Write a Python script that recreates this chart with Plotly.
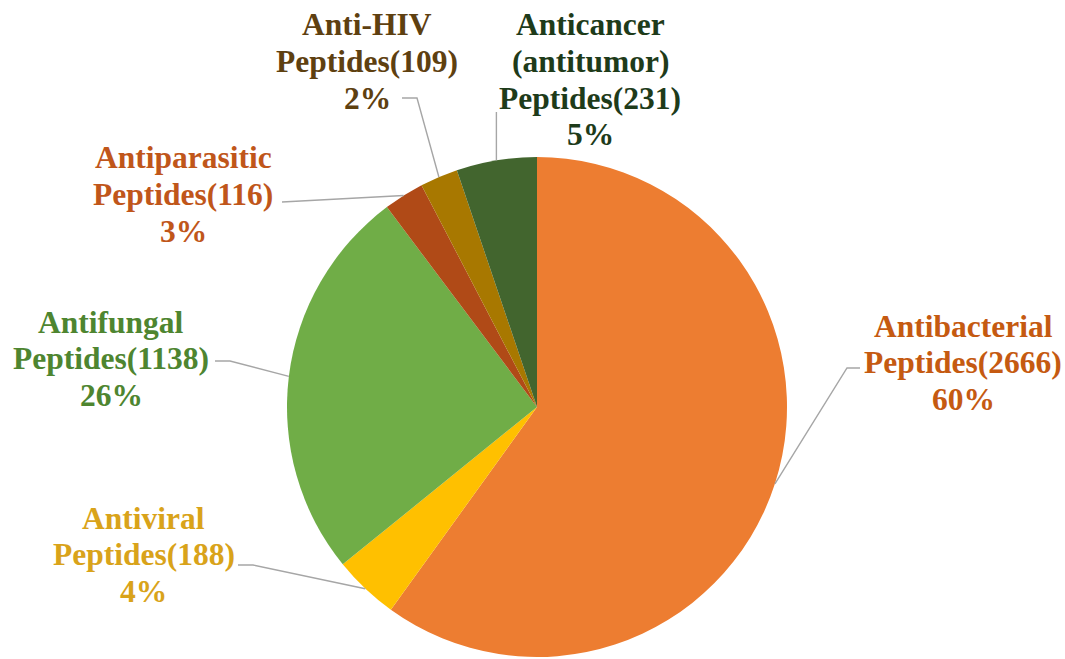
import math
import plotly.graph_objects as go

# ---- data ----
categories = ["Antibacterial", "Antiviral", "Antifungal", "Antiparasitic", "Anti-HIV", "Anticancer"]
label_lines = [
    ["Antibacterial", "Peptides(2666)"],
    ["Antiviral", "Peptides(188)"],
    ["Antifungal", "Peptides(1138)"],
    ["Antiparasitic", "Peptides(116)"],
    ["Anti-HIV", "Peptides(109)"],
    ["Anticancer", "(antitumor)", "Peptides(231)"],
]
counts = [2666, 188, 1138, 116, 109, 231]

# ---- styles ----
slice_colors = ["#ED7D31", "#FFC000", "#70AD47", "#B04A17", "#A87800", "#42652E"]
text_colors = ["#C55A11", "#D9A31A", "#4E8530", "#C0561A", "#5E4010", "#1E3B1A"]

W, H = 1065, 659
CX, CY, R = 537, 407, 250  # pie geometry in pixels (domain set accordingly)

# label layout (pixels): centre x, first line centre y
label_pos = [(963, 326), (144, 518), (111, 322), (183, 158), (367, 25), (590, 25)]
line_pitch = 36.5
# leader: (elbow point, label end point) in pixels; None elbow -> straight
leader_ends = [
    ((847, 368), (860, 368)),
    ((253, 565), (238, 565)),
    ((230, 361), (215, 361)),
    (None, (282, 202)),
    ((417, 98), (402, 98)),
    (None, "vertical:112"),
]

def px(x):
    return x / W

def py(y):
    return 1 - y / H

fig = go.Figure()
fig.add_trace(go.Pie(
    labels=categories,
    values=counts,
    sort=False,
    direction="clockwise",
    rotation=0,
    marker=dict(colors=slice_colors, line=dict(width=0)),
    textinfo="none",
    hoverinfo="label+value+percent",
    showlegend=False,
    domain=dict(x=[px(CX - R), px(CX + R)], y=[py(CY + R), py(CY - R)]),
))

total = sum(counts)
cum = 0
annotations = []
shapes = []
for i, v in enumerate(counts):
    mid = (cum + v / 2) / total * 2 * math.pi
    cum += v
    pct = round(v / total * 100)
    lines = label_lines[i] + [f"{pct}%"]
    cx, cy0 = label_pos[i]
    for k, t in enumerate(lines):
        annotations.append(dict(
            x=px(cx), y=py(cy0 + k * line_pitch), xref="paper", yref="paper",
            text=f"<b>{t}</b>", showarrow=False, xanchor="center", yanchor="middle",
            font=dict(family="Liberation Serif", size=31.5, color=text_colors[i]),
        ))
    # leader line from slice edge midpoint
    ex = CX + R * math.sin(mid)
    ey = CY - R * math.cos(mid)
    elbow, end = leader_ends[i]
    if isinstance(end, str):
        end = (ex, float(end.split(":")[1]))
    pts = [(ex, ey)] + ([elbow] if elbow else []) + [end]
    path = "M " + " L ".join(f"{px(a):.5f},{py(b):.5f}" for a, b in pts)
    shapes.append(dict(type="path", path=path, xref="paper", yref="paper",
                       line=dict(color="#A6A6A6", width=1.4)))

fig.update_layout(
    width=W, height=H,
    margin=dict(l=0, r=0, t=0, b=0),
    paper_bgcolor="white", plot_bgcolor="white",
    annotations=annotations, shapes=shapes,
)
fig.write_html("out.html")
